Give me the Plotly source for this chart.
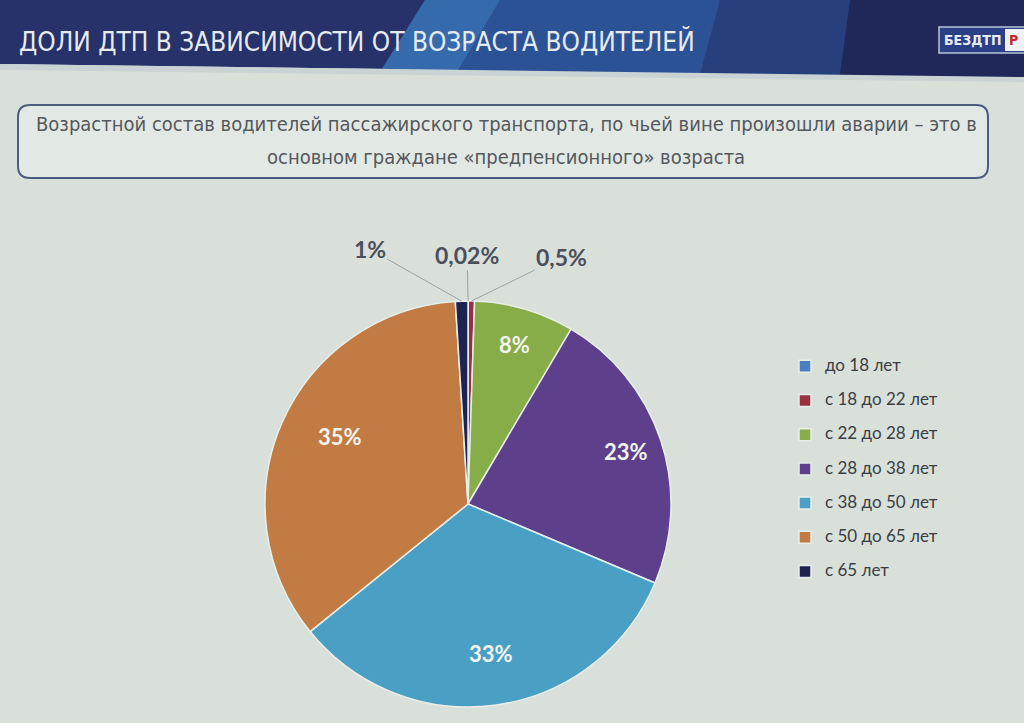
import numpy as np
import plotly.graph_objects as go

# ---------------- data ----------------
categories = ["до 18 лет", "с 18 до 22 лет", "с 22 до 28 лет", "с 28 до 38 лет",
              "с 38 до 50 лет", "с 50 до 65 лет", "с 65 лет"]
values = [0.02, 0.5, 8, 23, 33, 35, 1]
value_labels = ["0,02%", "0,5%", "8%", "23%", "33%", "35%", "1%"]
title_text = "ДОЛИ ДТП В ЗАВИСИМОСТИ ОТ ВОЗРАСТА ВОДИТЕЛЕЙ"
subtitle_lines = ["Возрастной состав водителей пассажирского транспорта, по чьей вине произошли аварии – это в",
                  "основном граждане «предпенсионного» возраста"]

# ---------------- style ----------------
W, H = 1024, 723
NARROW = "DejaVu Sans Condensed, Roboto Condensed, Liberation Sans Narrow, Arial Narrow, sans-serif"
colors = ["#4a7fc1", "#9a2f42", "#86ad48", "#5e3f8c", "#4a9fc4", "#c27c43", "#1d2452"]
CX, CY, R = 468, 504, 203          # pie centre / radius in pixels
inside_k = 0.82                    # radial position of inside labels
# label offsets (pixels) for the tiny outside slices: index -> (dx, dy)
outside_offsets = {0: (-1, -46), 1: (90, -44), 6: (-92, -52)}
LEGEND_TEXT_SIZE = 17
SUB_Y = [124, 157]

def px(x):
    return x / W

def py(y):
    return 1 - y / H

legend_names = [f"<span style='font-size:{LEGEND_TEXT_SIZE}px'>{c}</span><br> " for c in categories]

fig = go.Figure()
fig.add_trace(go.Pie(
    labels=legend_names, values=values, sort=False, direction="clockwise", rotation=0,
    marker=dict(colors=colors, line=dict(color="#e8eee9", width=1.5)),
    textinfo="none", hovertext=categories, hoverinfo="text+value",
    domain=dict(x=[px(CX - R), px(CX + R)], y=[py(CY + R), py(CY - R)]),
))

# label annotations computed from the data
vals = np.array(values, dtype=float)
total = vals.sum()
cum = np.cumsum(vals)
mids = 2 * np.pi * (cum - vals / 2) / total
annotations = []
for i, (lab, th) in enumerate(zip(value_labels, mids)):
    if i in outside_offsets:
        tx = CX + R * np.sin(th)
        ty = CY - R * np.cos(th)
        dx, dy = outside_offsets[i]
        annotations.append(dict(
            x=px(tx), y=py(ty), xref="paper", yref="paper", text=lab,
            showarrow=True, arrowhead=0, arrowwidth=1, arrowcolor="#9aa0a6",
            ax=dx, ay=dy, standoff=0,
            font=dict(family="Lato", size=23, color="#4b4f5c", weight="bold")))
    else:
        lx = CX + R * inside_k * np.sin(th)
        ly = CY - R * inside_k * np.cos(th)
        annotations.append(dict(
            x=px(lx), y=py(ly), xref="paper", yref="paper", text=lab, showarrow=False,
            font=dict(family="Lato", size=22, color="#f2f4f0", weight="bold")))

# title, subtitle, logo
annotations.append(dict(x=px(17), y=py(41), xref="paper", yref="paper", xanchor="left",
                        yanchor="middle", text=title_text, showarrow=False,
                        font=dict(family=NARROW, size=26, color="#e6ebf0")))
for line, yy in zip(subtitle_lines, SUB_Y):
    annotations.append(dict(x=px(506), y=py(yy), xref="paper", yref="paper", xanchor="center",
                            yanchor="middle", text=line, showarrow=False,
                            font=dict(family=NARROW, size=20, color="#55585c")))
annotations.append(dict(x=px(942), y=py(40), xref="paper", yref="paper", xanchor="left",
                        yanchor="middle", text="БЕЗДТП", showarrow=False,
                        font=dict(family=NARROW, size=14, color="#e8ecf4", weight="bold")))
annotations.append(dict(x=px(1007), y=py(40), xref="paper", yref="paper", xanchor="left",
                        yanchor="middle", text="Р", showarrow=False,
                        font=dict(family=NARROW, size=14, color="#c0282e", weight="bold")))

def poly(pts):
    return "M " + " L ".join(f"{px(x):.4f},{py(y):.4f}" for x, y in pts) + " Z"

shapes = [
    # header band
    dict(type="path", xref="paper", yref="paper", layer="below",
         path=poly([(0, 0), (1024, 0), (1024, 77), (0, 64)]), fillcolor="#27316a", line=dict(width=0)),
    dict(type="path", xref="paper", yref="paper", layer="below",
         path=poly([(500, 0), (1024, 0), (1024, 77), (455, 73)]),
         fillcolor="#2c5296", line=dict(width=0)),
    dict(type="path", xref="paper", yref="paper", layer="below",
         path=poly([(720, 0), (1024, 0), (1024, 77), (700, 74)]),
         fillcolor="#283f7e", line=dict(width=0)),
    dict(type="path", xref="paper", yref="paper", layer="below",
         path=poly([(850, 0), (1024, 0), (1024, 77), (840, 75)]),
         fillcolor="#1f2859", line=dict(width=0)),
    dict(type="path", xref="paper", yref="paper", layer="below",
         path=poly([(425, 0), (500, 0), (456, 73), (380, 72)]),
         fillcolor="#3a7bbd", opacity=0.8, line=dict(width=0)),
    # light strip under header
    dict(type="path", xref="paper", yref="paper", layer="below",
         path=poly([(0, 64), (1024, 77), (1024, 82), (0, 70)]), fillcolor="#c9d3d3", line=dict(width=0)),
    # logo box
    dict(type="rect", xref="paper", yref="paper", x0=px(939), x1=px(1030), y0=py(53), y1=py(27),
         fillcolor="#2a3f86", line=dict(color="#b8c4dc", width=1.5)),
    dict(type="rect", xref="paper", yref="paper", x0=px(1005), x1=px(1030), y0=py(51), y1=py(29),
         fillcolor="#eef0f2", line=dict(width=0)),
]
x0, x1, y0, y1, rr = 18, 988, 105, 178, 12
rounded = (f"M {px(x0+rr)},{py(y0)} L {px(x1-rr)},{py(y0)} Q {px(x1)},{py(y0)} {px(x1)},{py(y0+rr)} "
           f"L {px(x1)},{py(y1-rr)} Q {px(x1)},{py(y1)} {px(x1-rr)},{py(y1)} "
           f"L {px(x0+rr)},{py(y1)} Q {px(x0)},{py(y1)} {px(x0)},{py(y1-rr)} "
           f"L {px(x0)},{py(y0+rr)} Q {px(x0)},{py(y0)} {px(x0+rr)},{py(y0)} Z")
shapes.append(dict(type="path", xref="paper", yref="paper", path=rounded, layer="below",
                   fillcolor="#e2e9e5", line=dict(color="#4c5b82", width=2)))

fig.update_layout(
    width=W, height=H, margin=dict(l=0, r=0, t=0, b=0),
    paper_bgcolor="#d9e0da", plot_bgcolor="#d9e0da",
    shapes=shapes, annotations=annotations,
    showlegend=True,
    legend=dict(x=px(785), y=py(352), xanchor="left", yanchor="top",
                font=dict(family="Lato", size=12, color="#3a3d44"), valign="top",
                bgcolor="rgba(0,0,0,0)", itemwidth=30),
)

fig.write_html("out.html", config={"displayModeBar": False},
               post_script="document.body.style.margin='0';document.body.style.overflow='hidden';")
